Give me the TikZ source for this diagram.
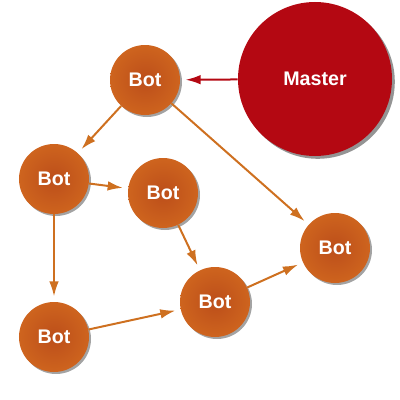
\documentclass[tikz,border=0pt]{standalone}
\usepackage{fontspec}
\setmainfont{Liberation Sans}
\usetikzlibrary{arrows.meta,shadows}
\definecolor{botdark}{RGB}{188,78,26}
\definecolor{botlight}{RGB}{206,100,30}
\definecolor{masterred}{RGB}{180,8,18}
\definecolor{linkorange}{RGB}{206,112,32}
\begin{document}
\begin{tikzpicture}[x=0.25mm,y=-0.25mm,line join=round,>={Latex[length=3.8mm,width=2.4mm]}]
	\tikzset{bot/.style={circle,minimum size=17.5mm,inner sep=0pt,inner color=botdark,outer color=botlight,text=white,font=\bfseries\fontsize{14}{14}\selectfont,drop shadow={shadow xshift=0.5mm,shadow yshift=-0.5mm,fill=black!60,opacity=0.6}},
		master/.style={circle,minimum size=38.5mm,inner sep=0pt,fill=masterred,text=white,font=\bfseries\fontsize{14}{14}\selectfont,drop shadow={shadow xshift=0.7mm,shadow yshift=-0.7mm,fill=black!70,opacity=0.6}},
		link/.style={->,draw=linkorange,fill=linkorange,line width=0.5mm,shorten >=1.3mm},
		masterlink/.style={link,draw=masterred,fill=masterred}}
	\useasboundingbox (0,0) rectangle (400,400);
	% nodes
	\node[master] (master) at (315,79) {Master};
	\node[bot] (b1) at (145,80) {Bot};
	\node[bot] (b2) at (54,179) {Bot};
	\node[bot] (b3) at (163,193) {Bot};
	\node[bot] (b4) at (335,248) {Bot};
	\node[bot] (b5) at (54,337) {Bot};
	\node[bot] (b6) at (215,302) {Bot};
	% links
	\draw[masterlink] (master)--(b1);
	\foreach \from/\to in {b1/b2,b1/b4,b2/b3,b2/b5,b3/b6,b5/b6,b6/b4}
	\draw[link] (\from)--(\to);
\end{tikzpicture}
\end{document}
